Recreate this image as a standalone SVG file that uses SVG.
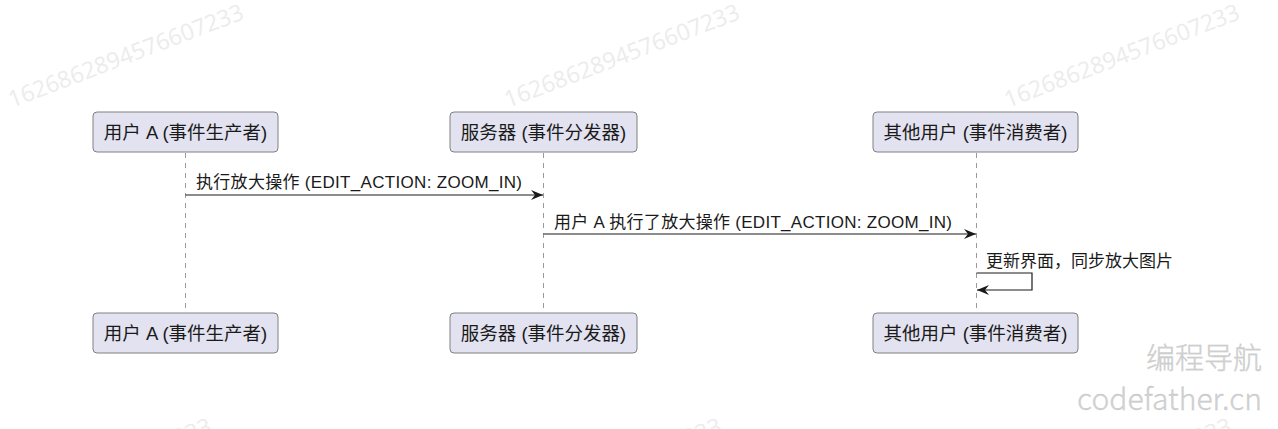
<svg xmlns="http://www.w3.org/2000/svg" width="1278" height="429" viewBox="0 0 1278 429">
<style>
.box{fill:#E2E2F0;stroke:#808080;stroke-width:1}
.ptext{font-family:"Liberation Sans","Noto Sans CJK SC",sans-serif;font-size:18.5px;fill:#1a1a1a;text-anchor:middle}
.mtext{font-family:"Liberation Sans","Noto Sans CJK SC",sans-serif;font-size:17px;fill:#1a1a1a}
.life{stroke:#9a9a9a;stroke-width:1;stroke-dasharray:5,5;fill:none}
.msg{stroke:#1a1a1a;stroke-width:1.2;fill:none}
.wm{font-family:"Open Sans","Noto Sans",sans-serif;font-size:23px;fill:#ececec}
.brand{font-family:"Noto Sans CJK SC","Noto Sans",sans-serif;font-weight:300;fill:#d2d2d2;text-anchor:end;stroke:#c4c4c4;stroke-width:0.3}
</style>
<defs>
<marker id="ah" viewBox="0 0 12 10" refX="12" refY="5" markerWidth="12" markerHeight="10" markerUnits="userSpaceOnUse" orient="auto">
<path d="M0,0 L12,5 L0,10 L4,5 Z" fill="#1a1a1a"/>
</marker>
</defs>
<rect width="1278" height="429" fill="#ffffff"/>
<g id="watermarks">
<text class="wm" transform="translate(12,108) rotate(-21)">1626862894576607233</text>
<text class="wm" transform="translate(508,108) rotate(-21)">1626862894576607233</text>
<text class="wm" transform="translate(1008,108) rotate(-21)">1626862894576607233</text>
<text class="wm" transform="translate(-20,522) rotate(-21)">1626862894576607233</text>
<text class="wm" transform="translate(490,522) rotate(-21)">1626862894576607233</text>
<text class="wm" transform="translate(1000,522) rotate(-21)">1626862894576607233</text>
</g>
<g id="lifelines">
<line class="life" x1="185.5" y1="153" x2="185.5" y2="313"/>
<line class="life" x1="543.5" y1="153" x2="543.5" y2="313"/>
<line class="life" x1="976.5" y1="153" x2="976.5" y2="313"/>
</g>
<g id="connectors">
<line class="msg" x1="185.5" y1="195" x2="543" y2="195" marker-end="url(#ah)"/>
<text class="mtext" x="196" y="188" textLength="326" lengthAdjust="spacing">执行放大操作 (EDIT_ACTION: ZOOM_IN)</text>
<line class="msg" x1="543.5" y1="234" x2="976" y2="234" marker-end="url(#ah)"/>
<text class="mtext" x="554" y="228" textLength="398" lengthAdjust="spacing">用户 A 执行了放大操作 (EDIT_ACTION: ZOOM_IN)</text>
<polyline class="msg" points="976.5,273 1032,273 1032,290 977,290" marker-end="url(#ah)"/>
<text class="mtext" x="986" y="267">更新界面，同步放大图片</text>
</g>
<g id="producer-top"><rect class="box" x="93" y="112" width="185" height="40" rx="4"/><text class="ptext" x="185.5" y="138.5">用户 A (事件生产者)</text></g>
<g id="server-top"><rect class="box" x="450" y="112" width="187" height="40" rx="4"/><text class="ptext" x="543.5" y="138.5">服务器 (事件分发器)</text></g>
<g id="consumer-top"><rect class="box" x="873" y="112" width="205" height="40" rx="4"/><text class="ptext" x="975.5" y="138.5">其他用户 (事件消费者)</text></g>
<g id="producer-bottom"><rect class="box" x="93" y="313" width="185" height="40" rx="4"/><text class="ptext" x="185.5" y="339.5">用户 A (事件生产者)</text></g>
<g id="server-bottom"><rect class="box" x="450" y="313" width="187" height="40" rx="4"/><text class="ptext" x="543.5" y="339.5">服务器 (事件分发器)</text></g>
<g id="consumer-bottom"><rect class="box" x="873" y="313" width="205" height="40" rx="4"/><text class="ptext" x="975.5" y="339.5">其他用户 (事件消费者)</text></g>
<g id="brand">
<text class="brand" x="1262" y="369" font-size="29">编程导航</text>
<text class="brand" x="1262" y="410" font-size="30" textLength="185" lengthAdjust="spacing">codefather.cn</text>
</g>
</svg>
